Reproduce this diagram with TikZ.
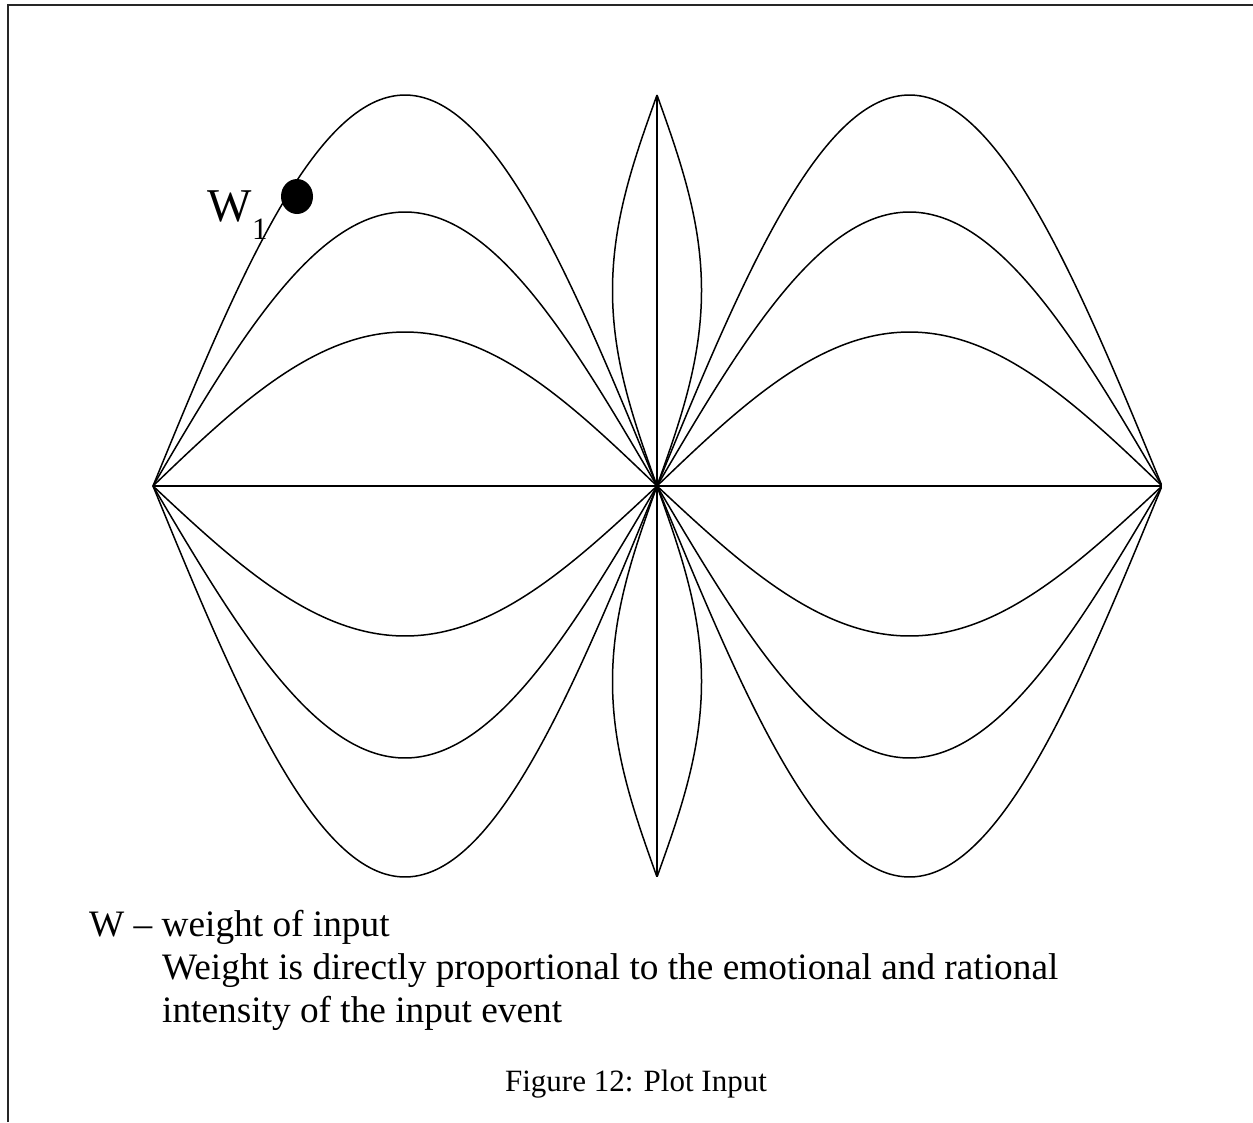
\documentclass[tikz,border=0pt]{standalone}
\usepackage{fontspec}
\setmainfont{Liberation Serif}
\usetikzlibrary{shapes.geometric}
\begin{document}
\begin{tikzpicture}[x=1pt,y=-1pt,
  curve/.style={line width=1.5pt, line join=round},
  frame/.style={line width=2pt, black!85},
  txt/.style={anchor=base west, inner sep=0pt, font=\fontsize{37.3}{44}\selectfont},
  caption/.style={anchor=base, inner sep=0pt, font=\fontsize{31}{35}\selectfont}]
\useasboundingbox (0,0) rectangle (1253,1122);
% frame
\coordinate (F1) at (7.5,1122);
\coordinate (F2) at (7.5,4.5);
\coordinate (F3) at (1253,4.5);
\draw[frame] (F1) -- (F2) -- (F3);
% key points
\coordinate (L) at (153,486);
\coordinate (C) at (657,486);
\coordinate (R) at (1162,486);
\coordinate (T) at (657,95);
\coordinate (B) at (657,877);
\draw[curve] (L) -- (C) -- (R);
\draw[curve] (T) -- (C) -- (B);
% sine arches
\foreach \a in {391,274,154,-150,-272,-391} {
  \draw[curve] plot[domain=0:1, samples=120, variable=\t, smooth] ({153+504*\t},{486-\a*sin(180*\t)});
  \draw[curve] plot[domain=0:1, samples=120, variable=\t, smooth] ({657+505*\t},{486-\a*sin(180*\t)});
}
% central lenses
\foreach \s in {1,-1} {
  \draw[curve] plot[domain=0:1, samples=100, variable=\t, smooth] ({657+\s*44.5*sin(180*\t)},{95+391*\t});
  \draw[curve] plot[domain=0:1, samples=100, variable=\t, smooth] ({657+\s*44.5*sin(180*\t)},{486+391*\t});
}
% weight marker
\node (dot) [fill=black, ellipse, minimum width=32pt, minimum height=35pt, inner sep=0pt] at (297,196.5) {};
\node (wl) [anchor=base west, inner sep=0pt, font=\fontsize{47}{50}\selectfont] at (207,221) {W};
\node (wsub) [anchor=base west, inner sep=0pt, font=\fontsize{31}{34}\selectfont] at (252,239) {1};
% legend text
\node (l1) [txt] at (89,936) {W – weight of input};
\node (l2) [txt] at (162,979) {Weight is directly proportional to the emotional and rational};
\node (l3) [txt] at (162,1022) {intensity of the input event};
\node (cap) [caption] at (636,1091) {Figure 12: Plot Input};
\end{tikzpicture}
\end{document}
